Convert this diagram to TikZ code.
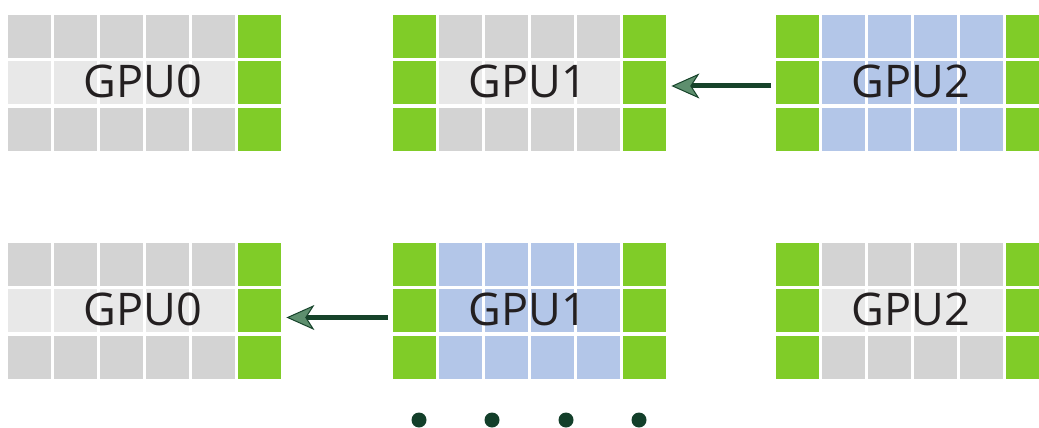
\documentclass[tikz,border=0pt]{standalone}
\usepackage{fontspec}
\setsansfont{Open Sans}
\usetikzlibrary{arrows.meta}
\definecolor{cgreen}{HTML}{80CC28}
\definecolor{cgray}{HTML}{D3D3D3}
\definecolor{clight}{HTML}{E8E8E8}
\definecolor{cblue}{HTML}{B3C6E8}
\definecolor{ctext}{HTML}{231F20}
\definecolor{carrow}{HTML}{16432A}
\definecolor{cheadfill}{HTML}{5E8F6E}
\definecolor{cdot}{HTML}{133F2A}
\tikzset{
  gputext/.style={font=\sffamily\fontsize{45}{45}\selectfont, text=ctext, inner sep=0pt, anchor=base},
  gpuarrow/.style={draw=carrow, line width=5pt,
    -{Stealth[length=28pt, width=25pt, inset=8pt, line width=1pt, fill=cheadfill]},
    shorten <=5pt, shorten >=5pt},
  dotnode/.style={circle, fill=cdot, inner sep=0pt, minimum size=15pt},
  gridbox/.style={inner sep=0pt, minimum width=273pt, minimum height=135.6pt, anchor=north west}
}
% #1 name, #2 x, #3 y, #4 col0 outer, #5 col0 middle, #6 inner outer, #7 inner middle, #8 label
\newcommand\gpublock[8]{%
  \foreach \r in {0,1,2}{%
    \pgfmathsetmacro\yy{#3+\r*46.3}%
    \ifnum\r=1 \def\co{#5}\def\ci{#7}\else\def\co{#4}\def\ci{#6}\fi
    \fill[\co] (#2,\yy) rectangle ++(43,43);
    \foreach \c in {1,...,4}{\fill[\ci] ({#2+\c*46},\yy) rectangle ++(43,43);}
    \fill[cgreen] ({#2+5*46},\yy) rectangle ++(43,43);
  }
  \node[gridbox] (#1) at (#2,#3) {};
  \node[gputext] (#1-label) at ({#2+135},{#3+82}) {#8};
}
\begin{document}
\begin{tikzpicture}[x=1pt, y=-1pt]
  \clip (0,0) rectangle (1039,428);
  % top row
  \gpublock{g0t}{8}{15}{cgray}{clight}{cgray}{clight}{GPU0}
  \gpublock{g1t}{393}{15}{cgreen}{cgreen}{cgray}{clight}{GPU1}
  \gpublock{g2t}{776}{15}{cgreen}{cgreen}{cblue}{cblue}{GPU2}
  % bottom row
  \gpublock{g0b}{8}{243}{cgray}{clight}{cgray}{clight}{GPU0}
  \gpublock{g1b}{393}{243}{cgreen}{cgreen}{cblue}{cblue}{GPU1}
  \gpublock{g2b}{776}{243}{cgreen}{cgreen}{cgray}{clight}{GPU2}
  % arrows
  \draw[gpuarrow] ([yshift=-3pt]g2t.west) -- ([yshift=-3pt]g1t.east);
  \draw[gpuarrow] ([yshift=-6.5pt]g1b.west) -- ([yshift=-6.5pt]g0b.east);
  % dots
  \node[dotnode] (d1) at (419,420) {};
  \node[dotnode] (d2) at (492,420) {};
  \node[dotnode] (d3) at (566,420) {};
  \node[dotnode] (d4) at (639,420) {};
\end{tikzpicture}
\end{document}
